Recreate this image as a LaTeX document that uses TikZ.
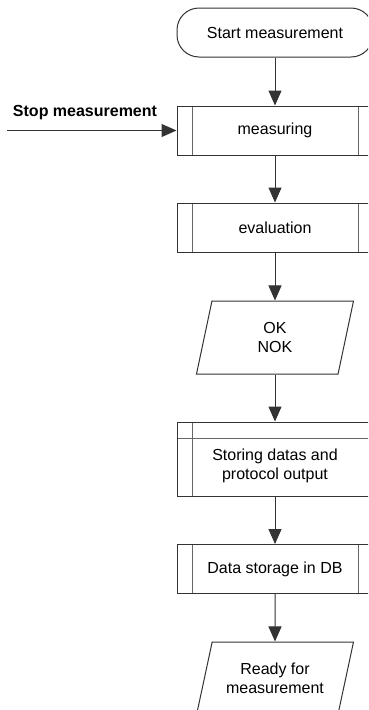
\documentclass[tikz,border=0pt]{standalone}
\usepackage{fontspec}
\setmainfont{Liberation Sans}
\usetikzlibrary{arrows.meta,shapes.geometric}

\begin{document}
\begin{tikzpicture}[x=1pt,y=-1pt,
        font=\fontsize{16}{19}\selectfont,
        trait/.style={draw=black!80,line width=1pt},
        fleche/.style={trait,-{Triangle[length=15pt,width=13pt]}},
        debut/.style={trait,rectangle,rounded corners=22pt,minimum width=196pt,minimum height=49pt,inner sep=0pt},
        sousprog/.style={trait,rectangle,minimum width=196pt,minimum height=49pt,inner sep=0pt,
            path picture={\draw[black!60,line width=1pt]
                ([xshift=15pt]path picture bounding box.north west) -- ([xshift=15pt]path picture bounding box.south west)
                ([xshift=-15pt]path picture bounding box.north east) -- ([xshift=-15pt]path picture bounding box.south east);}},
        stockage/.style={trait,rectangle,minimum width=196pt,minimum height=74pt,inner sep=0pt,
            path picture={\draw[black!60,line width=1pt]
                ([xshift=15pt]path picture bounding box.north west) -- ([xshift=15pt]path picture bounding box.south west)
                ([yshift=-16pt]path picture bounding box.north west) -- ([yshift=-16pt]path picture bounding box.north east);}},
        donnee/.style={trait,trapezium,trapezium left angle=63,trapezium right angle=117,
            trapezium stretches body,minimum width=157pt,minimum height=73pt,inner sep=0pt,align=center}]
        % Cadre de l'image
        \clip (0,0) rectangle (368,710);

        % Les blocs du déroulement
        \node[debut] (debut) at (275,32.5) {Start measurement};
        \node[sousprog] (mesure) at (275,130.5) {measuring};
        \node[sousprog] (eval) at (275,227.5) {evaluation};
        \node[donnee] (resultat) at (275,337.5) {OK\\NOK};
        \node[stockage] (stockage) at (275,459) {};
        \node[align=center] (stockagetxt) at (275,466) {Storing datas and\\protocol output}; % texte un peu plus bas (bandeau en haut)
        \node[sousprog] (base) at (275,569) {Data storage in DB};
        \node[donnee] (pret) at (275,678.5) {Ready for\\measurement};

        % Entrée d'arrêt à gauche
        \node[font=\fontsize{16}{19}\selectfont\bfseries] (arret) at (85,113) {Stop measurement};
        \coordinate (arretdep) at (7,130.5);

        % Les flèches
        \draw[fleche] (debut) -- (mesure);
        \draw[fleche] (mesure) -- (eval);
        \draw[fleche] (eval) -- (resultat);
        \draw[fleche] (resultat) -- (stockage);
        \draw[fleche] (stockage) -- (base);
        \draw[fleche] (base) -- (pret);
        \draw[fleche] (arretdep) -- (mesure.west);
    \end{tikzpicture}
\end{document}
